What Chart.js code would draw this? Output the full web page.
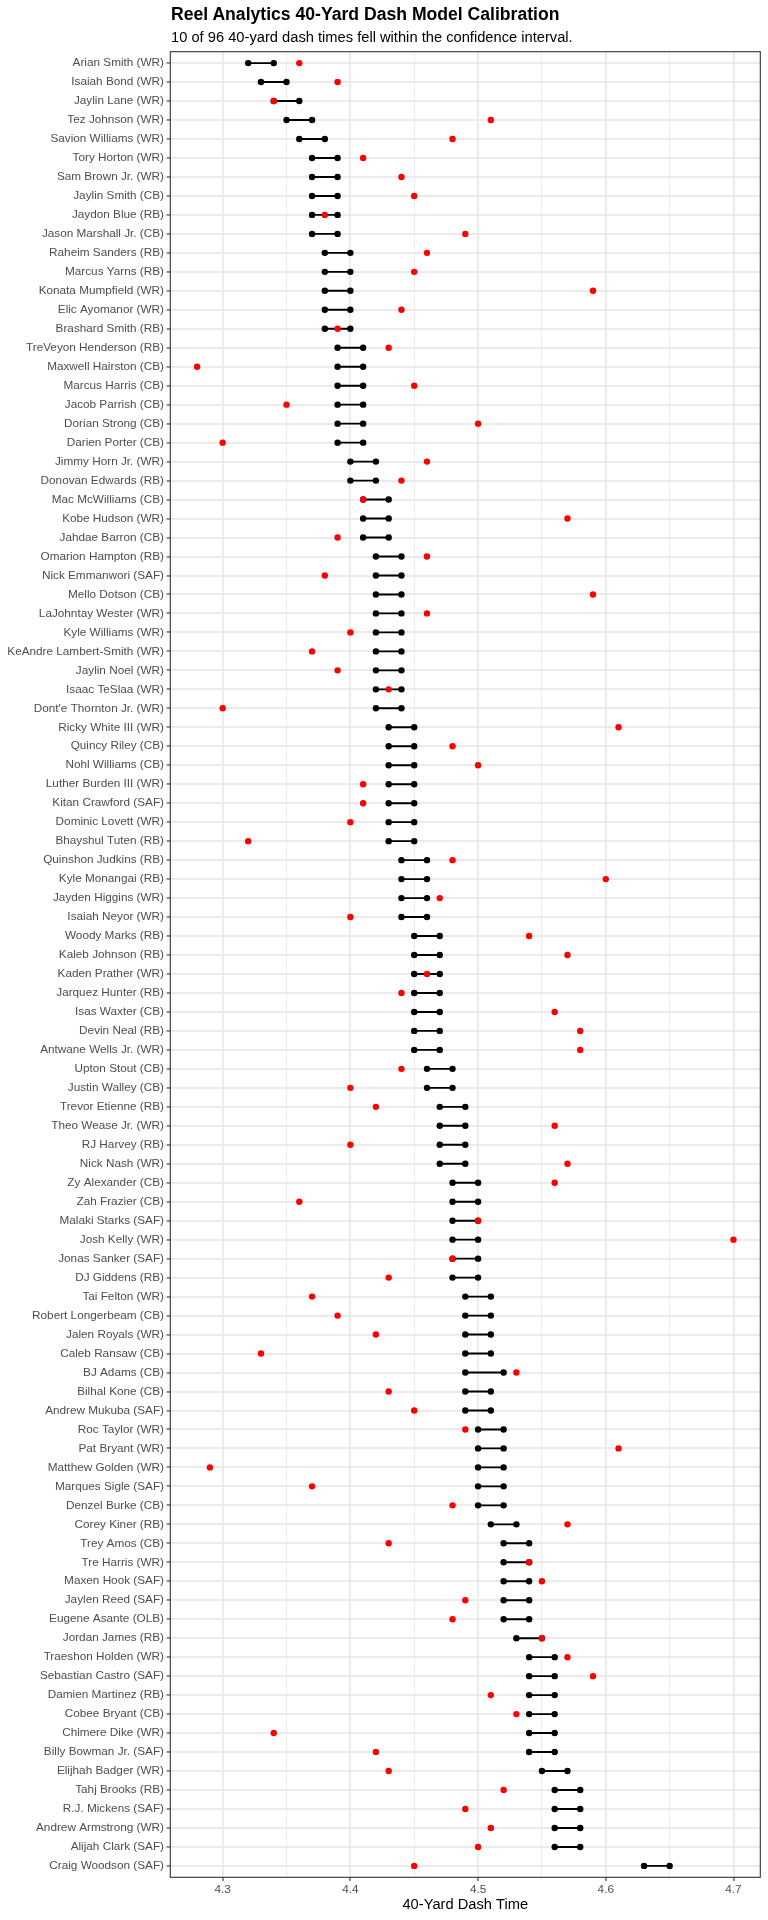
<!DOCTYPE html>
<html>
<head>
<meta charset="utf-8">
<script src="https://cdn.jsdelivr.net/npm/chart.js@4.4.1/dist/chart.umd.min.js"></script>
<style>
  html, body { margin: 0; padding: 0; background: #ffffff; }
  #wrap { position: relative; width: 768px; height: 1920px; }
  #c { position: absolute; left: 0; top: 0; }
  .ttl { position: absolute; left: 171px; white-space: nowrap; line-height: 1; font-family: "Liberation Sans", Arial, Helvetica, sans-serif; color: #000; }
  #title { top: 6px; font-size: 17.6px; font-weight: bold; }
  #subtitle { top: 29.5px; font-size: 14.7px; }
</style>
</head>
<body>
<div id="wrap">
  <canvas id="c" width="768" height="1920"></canvas>
  <div id="title" class="ttl">Reel Analytics 40-Yard Dash Model Calibration</div>
  <div id="subtitle" class="ttl">10 of 96 40-yard dash times fell within the confidence interval.</div>
</div>
<script>
const names = [
"Arian Smith (WR)","Isaiah Bond (WR)","Jaylin Lane (WR)","Tez Johnson (WR)","Savion Williams (WR)","Tory Horton (WR)","Sam Brown Jr. (WR)","Jaylin Smith (CB)","Jaydon Blue (RB)","Jason Marshall Jr. (CB)","Raheim Sanders (RB)","Marcus Yarns (RB)","Konata Mumpfield (WR)",
"Elic Ayomanor (WR)","Brashard Smith (RB)","TreVeyon Henderson (RB)","Maxwell Hairston (CB)","Marcus Harris (CB)","Jacob Parrish (CB)","Dorian Strong (CB)","Darien Porter (CB)","Jimmy Horn Jr. (WR)","Donovan Edwards (RB)","Mac McWilliams (CB)","Kobe Hudson (WR)",
"Jahdae Barron (CB)","Omarion Hampton (RB)","Nick Emmanwori (SAF)","Mello Dotson (CB)","LaJohntay Wester (WR)","Kyle Williams (WR)","KeAndre Lambert-Smith (WR)","Jaylin Noel (WR)","Isaac TeSlaa (WR)","Dont'e Thornton Jr. (WR)","Ricky White III (WR)","Quincy Riley (CB)",
"Nohl Williams (CB)","Luther Burden III (WR)","Kitan Crawford (SAF)","Dominic Lovett (WR)","Bhayshul Tuten (RB)","Quinshon Judkins (RB)","Kyle Monangai (RB)","Jayden Higgins (WR)","Isaiah Neyor (WR)","Woody Marks (RB)","Kaleb Johnson (RB)","Kaden Prather (WR)",
"Jarquez Hunter (RB)","Isas Waxter (CB)","Devin Neal (RB)","Antwane Wells Jr. (WR)","Upton Stout (CB)","Justin Walley (CB)","Trevor Etienne (RB)","Theo Wease Jr. (WR)","RJ Harvey (RB)","Nick Nash (WR)","Zy Alexander (CB)","Zah Frazier (CB)",
"Malaki Starks (SAF)","Josh Kelly (WR)","Jonas Sanker (SAF)","DJ Giddens (RB)","Tai Felton (WR)","Robert Longerbeam (CB)","Jalen Royals (WR)","Caleb Ransaw (CB)","BJ Adams (CB)","Bilhal Kone (CB)","Andrew Mukuba (SAF)","Roc Taylor (WR)",
"Pat Bryant (WR)","Matthew Golden (WR)","Marques Sigle (SAF)","Denzel Burke (CB)","Corey Kiner (RB)","Trey Amos (CB)","Tre Harris (WR)","Maxen Hook (SAF)","Jaylen Reed (SAF)","Eugene Asante (OLB)","Jordan James (RB)","Traeshon Holden (WR)",
"Sebastian Castro (SAF)","Damien Martinez (RB)","Cobee Bryant (CB)","Chimere Dike (WR)","Billy Bowman Jr. (SAF)","Elijhah Badger (WR)","Tahj Brooks (RB)","R.J. Mickens (SAF)","Andrew Armstrong (WR)","Alijah Clark (SAF)","Craig Woodson (SAF)"
];

const lower = [
4.32,4.33,4.34,4.35,4.36,4.37,4.37,4.37,4.37,4.37,4.38,4.38,4.38,
4.38,4.38,4.39,4.39,4.39,4.39,4.39,4.39,4.40,4.40,4.41,4.41,
4.41,4.42,4.42,4.42,4.42,4.42,4.42,4.42,4.42,4.42,4.43,4.43,
4.43,4.43,4.43,4.43,4.43,4.44,4.44,4.44,4.44,4.45,4.45,4.45,
4.45,4.45,4.45,4.45,4.46,4.46,4.47,4.47,4.47,4.47,4.48,4.48,
4.48,4.48,4.48,4.48,4.49,4.49,4.49,4.49,4.49,4.49,4.49,4.50,
4.50,4.50,4.50,4.50,4.51,4.52,4.52,4.52,4.52,4.52,4.53,4.54,
4.54,4.54,4.54,4.54,4.54,4.55,4.56,4.56,4.56,4.56,4.63
];

const upper = [
4.34,4.35,4.36,4.37,4.38,4.39,4.39,4.39,4.39,4.39,4.40,4.40,4.40,
4.40,4.40,4.41,4.41,4.41,4.41,4.41,4.41,4.42,4.42,4.43,4.43,
4.43,4.44,4.44,4.44,4.44,4.44,4.44,4.44,4.44,4.44,4.45,4.45,
4.45,4.45,4.45,4.45,4.45,4.46,4.46,4.46,4.46,4.47,4.47,4.47,
4.47,4.47,4.47,4.47,4.48,4.48,4.49,4.49,4.49,4.49,4.50,4.50,
4.50,4.50,4.50,4.50,4.51,4.51,4.51,4.51,4.52,4.51,4.51,4.52,
4.52,4.52,4.52,4.52,4.53,4.54,4.54,4.54,4.54,4.54,4.55,4.56,
4.56,4.56,4.56,4.56,4.56,4.57,4.58,4.58,4.58,4.58,4.65
];

const actual = [
4.36,4.39,4.34,4.51,4.48,4.41,4.44,4.45,4.38,4.49,4.46,4.45,4.59,
4.44,4.39,4.43,4.28,4.45,4.35,4.50,4.30,4.46,4.44,4.41,4.57,
4.39,4.46,4.38,4.59,4.46,4.40,4.37,4.39,4.43,4.30,4.61,4.48,
4.50,4.41,4.41,4.40,4.32,4.48,4.60,4.47,4.40,4.54,4.57,4.46,
4.44,4.56,4.58,4.58,4.44,4.40,4.42,4.56,4.40,4.57,4.56,4.36,
4.50,4.70,4.48,4.43,4.37,4.39,4.42,4.33,4.53,4.43,4.45,4.49,
4.61,4.29,4.37,4.48,4.57,4.43,4.54,4.55,4.49,4.48,4.55,4.57,
4.59,4.51,4.53,4.34,4.42,4.43,4.52,4.49,4.51,4.50,4.45
];

const xMajorTicks = [4.3, 4.4, 4.5, 4.6, 4.7];
const xMinorTicks = [4.35, 4.45, 4.55, 4.65];
const xTickLabels = ["4.3", "4.4", "4.5", "4.6", "4.7"];

// ggplot-like 5% expansion
const allVals = lower.concat(upper, actual);
const dMin = Math.min(...allVals), dMax = Math.max(...allVals);
const xPad = (dMax - dMin) * 0.05;

const FONT = '"Liberation Sans", Arial, Helvetica, sans-serif';

const segData = [];
names.forEach((n, i) => {
  segData.push({x: lower[i], y: i});
  segData.push({x: upper[i], y: i});
  segData.push({x: null, y: null});
});
const ciPoints = [];
names.forEach((n, i) => {
  ciPoints.push({x: lower[i], y: i});
  ciPoints.push({x: upper[i], y: i});
});
const actualPoints = names.map((n, i) => ({x: actual[i], y: i}));

function isMajorVal(v) {
  return xMajorTicks.some(t => Math.abs(t - v) < 1e-9);
}

const PANEL = {left: 170.3, right: 760.3, top: 51.7, bottom: 1877.3};

const borderPlugin = {
  id: 'panelBorder',
  afterDraw(chart) {
    const a = chart.chartArea;
    const ctx = chart.ctx;
    ctx.save();
    ctx.strokeStyle = '#333333';
    ctx.lineWidth = 1.1;
    ctx.strokeRect(a.left, a.top, a.right - a.left, a.bottom - a.top);
    ctx.restore();
  }
};

new Chart(document.getElementById('c'), {
  type: 'scatter',
  data: {
    datasets: [
      {
        label: 'Actual',
        data: actualPoints,
        backgroundColor: '#FF0000',
        borderWidth: 0,
        pointRadius: 3.2,
        order: 0
      },
      {
        label: 'Interval ends',
        data: ciPoints,
        backgroundColor: '#000000',
        borderWidth: 0,
        pointRadius: 3.2,
        order: 1
      },
      {
        label: 'Interval',
        data: segData,
        showLine: true,
        spanGaps: false,
        borderColor: '#000000',
        borderWidth: 1.9,
        pointRadius: 0,
        order: 2
      }
    ]
  },
  options: {
    responsive: false,
    animation: false,
    events: [],
    layout: {
      padding: {left: 0, top: PANEL.top, right: 768 - PANEL.right, bottom: 0}
    },
    plugins: {
      legend: {display: false},
      tooltip: {enabled: false},
      title: {display: false}
    },
    scales: {
      x: {
        type: 'linear',
        position: 'bottom',
        min: dMin - xPad,
        max: dMax + xPad,
        afterBuildTicks(scale) {
          scale.ticks = xMajorTicks.concat(xMinorTicks).sort((a, b) => a - b).map(v => ({value: v}));
        },
        afterFit(scale) { scale.height = 1920 - PANEL.bottom; },
        ticks: {
          autoSkip: false,
          maxRotation: 0,
          padding: 2,
          color: '#4D4D4D',
          font: {family: FONT, size: 11.75},
          callback(v) {
            const idx = xMajorTicks.findIndex(t => Math.abs(t - v) < 1e-9);
            return idx >= 0 ? xTickLabels[idx] : '';
          }
        },
        grid: {
          color: '#EBEBEB',
          lineWidth: (ctx) => (ctx.tick && isMajorVal(ctx.tick.value)) ? 1.9 : 0.95,
          tickLength: 3.7,
          tickColor: (ctx) => (ctx.tick && isMajorVal(ctx.tick.value)) ? '#333333' : 'rgba(0,0,0,0)',
          tickWidth: (ctx) => (ctx.tick && isMajorVal(ctx.tick.value)) ? 1.1 : 0
        },
        border: {display: false},
        title: {
          display: true,
          text: '40-Yard Dash Time',
          color: '#000000',
          font: {family: FONT, size: 14.7},
          padding: {top: 0, bottom: 5.8}
        }
      },
      y: {
        type: 'linear',
        position: 'left',
        reverse: true,
        min: -0.6,
        max: names.length - 1 + 0.6,
        afterBuildTicks(scale) {
          scale.ticks = names.map((n, i) => ({value: i}));
        },
        afterFit(scale) { scale.width = PANEL.left; },
        ticks: {
          autoSkip: false,
          padding: 2.6,
          color: '#4D4D4D',
          font: {family: FONT, size: 11.75},
          callback(v) { return names[v]; }
        },
        grid: {
          color: '#EBEBEB',
          lineWidth: 1.9,
          tickLength: 3.7,
          tickColor: '#333333',
          tickWidth: 1.1
        },
        border: {display: false}
      }
    }
  },
  plugins: [borderPlugin]
});
</script>
</body>
</html>
